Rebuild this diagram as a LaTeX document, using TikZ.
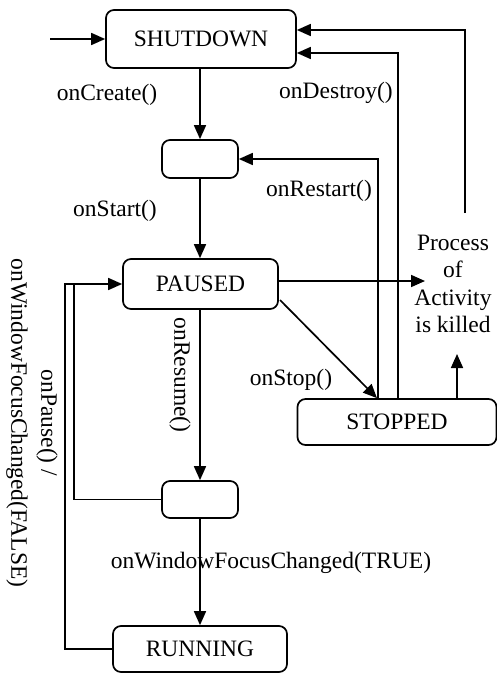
\documentclass[tikz,border=0pt]{standalone}
\usepackage{fontspec}
\setmainfont{Liberation Serif}
\usetikzlibrary{arrows.meta,calc}
\begin{document}
\begin{tikzpicture}[x=1pt,y=-1pt,
  every node/.style={font=\fontsize{23.5}{27.3}\selectfont},
  state/.style={draw,line width=1.7pt,rounded corners=8pt,inner sep=0pt},
  lbl/.style={inner sep=0pt},
  conn/.style={line width=1.7pt,-{Triangle[length=14pt,width=12pt]}},
  bareline/.style={line width=1.7pt}]
\useasboundingbox (0,0) rectangle (497,677);
% states
\node[state,minimum width=190pt,minimum height=58pt] (shut) at (201,39) {SHUTDOWN};
\node[state,minimum width=76pt,minimum height=38pt] (created) at (200,159) {};
\node[state,minimum width=155pt,minimum height=50pt] (paused) at (200.5,284) {PAUSED};
\node[state,minimum width=76pt,minimum height=37pt] (resumed) at (200,499.5) {};
\node[state,minimum width=174pt,minimum height=46pt] (running) at (200,649) {RUNNING};
\node[state,minimum width=199pt,minimum height=46pt] (stopped) at (397,422) {STOPPED};
\node[lbl,align=center] (killed) at (453,284) {Process\\of\\Activity\\is killed};
% helper coordinates
\coordinate (start) at (50,39);
\coordinate (killIn) at (425,281);
\coordinate (killUp) at (457,354);
\coordinate (killSrc) at (465,213);
% main chain
\draw[conn] (start) -- (shut.west);
\draw[conn] (shut.south -| created.north) -- (created.north);
\draw[conn] (created.south) -- (paused.north -| created.south);
\draw[conn] (paused.south -| resumed.north) -- (resumed.north);
\draw[conn] (resumed.south) -- (running.north -| resumed.south);
% to killed
\draw[conn] (paused.east |- killIn) -- (killIn);
\draw[conn] (stopped.north -| killUp) -- (killUp);
% onStop
\draw[conn] (280,300) -- (stopped.north -| 377,0);
% onRestart
\draw[conn] (stopped.north -| 378,0) -- (378,159) -- (created.east);
% onDestroy
\draw[conn] (stopped.north -| 398,0) -- (398,53) -- (shut.east |- 0,53);
% killed -> shutdown
\draw[conn] (killSrc) -- (465,30) -- (shut.east |- 0,30);
% onPause loops
\draw[conn] (running.west) -- (65,0 |- running.west) -- (65,284) -- (paused.west);
\draw[bareline] (resumed.west) -- (74,0 |- resumed.west) -- (74,284);
% labels
\node[lbl] (lCreate) at (107,95) {onCreate()};
\node[lbl] (lDestroy) at (336,93) {onDestroy()};
\node[lbl] (lRestart) at (319,191) {onRestart()};
\node[lbl] (lStart) at (115,211) {onStart()};
\node[lbl] (lStop) at (291,380) {onStop()};
\node[lbl,rotate=-90] (lResume) at (180,375) {onResume()};
\node[lbl] (lTrue) at (271,563) {onWindowFocusChanged(TRUE)};
\node[lbl,rotate=-90,align=center,font=\fontsize{23.5}{30}\selectfont] (lPause) at (32,423) {onPause() /\\onWindowFocusChanged(FALSE)};
\end{tikzpicture}
\end{document}
